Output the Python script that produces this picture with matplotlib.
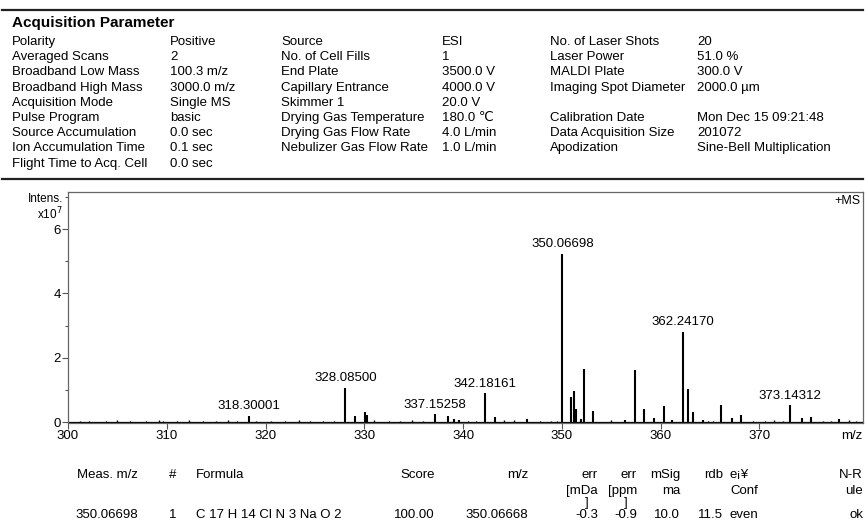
import matplotlib
matplotlib.use("Agg")
import matplotlib.pyplot as plt
from matplotlib.ticker import MultipleLocator, FixedLocator

plt.rcParams['font.family'] = ['Liberation Sans', 'DejaVu Sans']

W, H = 865, 530

# acquisition parameters, three label/value column pairs
col1_names = ['Polarity', 'Averaged Scans', 'Broadband Low Mass', 'Broadband High Mass',
              'Acquisition Mode', 'Pulse Program', 'Source Accumulation',
              'Ion Accumulation Time', 'Flight Time to Acq. Cell']
col1_values = ['Positive', '2', '100.3 m/z', '3000.0 m/z', 'Single MS', 'basic',
               '0.0 sec', '0.1 sec', '0.0 sec']
col2_names = ['Source', 'No. of Cell Fills', 'End Plate', 'Capillary Entrance', 'Skimmer 1',
              'Drying Gas Temperature', 'Drying Gas Flow Rate', 'Nebulizer Gas Flow Rate']
col2_values = ['ESI', '1', '3500.0 V', '4000.0 V', '20.0 V', '180.0 ℃', '4.0 L/min', '1.0 L/min']
col3_names = ['No. of Laser Shots', 'Laser Power', 'MALDI Plate', 'Imaging Spot Diameter', '',
              'Calibration Date', 'Data Acquisition Size', 'Apodization']
col3_values = ['20', '51.0 %', '300.0 V', '2000.0 µm', '', 'Mon Dec 15 09:21:48',
               '201072', 'Sine-Bell Multiplication']

# spectrum: m/z and intensity (x10^7)
peak_mz = [318.30001, 328.08500, 329.05, 330.05, 330.3, 337.15258, 338.5, 339.1, 339.6,
           342.18161, 343.2, 346.5, 350.06698, 350.9, 351.2, 351.4, 351.9, 352.2, 353.2,
           356.4, 357.4, 358.3, 359.3, 360.4, 361.2, 362.24170, 362.8, 363.3, 364.3,
           366.1, 367.2, 368.1, 373.14312, 374.3, 375.2, 378.1]
peak_int = [0.20, 1.07, 0.21, 0.32, 0.22, 0.26, 0.21, 0.10, 0.08,
            0.91, 0.18, 0.10, 5.24, 0.80, 0.96, 0.42, 0.10, 1.65, 0.36,
            0.07, 1.63, 0.42, 0.12, 0.50, 0.08, 2.82, 1.04, 0.32, 0.08,
            0.55, 0.12, 0.22, 0.53, 0.12, 0.18, 0.10]
noise_mz = [301.2, 302.1, 303.8, 305.0, 306.3, 307.9, 309.2, 309.6, 311.0, 312.3, 313.7,
            315.0, 316.2, 317.1, 319.0, 320.6, 322.0, 323.4, 324.5, 325.8, 326.9, 331.0,
            332.5, 333.6, 334.8, 335.9, 340.5, 341.3, 344.1, 345.2, 347.8, 348.9, 349.5,
            355.0, 364.8, 365.3, 369.4, 370.6, 371.5, 372.4, 376.5, 377.3, 379.1, 379.8]
noise_int = [0.04, 0.05, 0.04, 0.06, 0.04, 0.05, 0.07, 0.05, 0.04, 0.06, 0.05,
             0.04, 0.06, 0.05, 0.04, 0.05, 0.04, 0.06, 0.04, 0.05, 0.04, 0.06,
             0.05, 0.04, 0.06, 0.05, 0.05, 0.04, 0.06, 0.06, 0.05, 0.04, 0.05,
             0.06, 0.05, 0.04, 0.05, 0.04, 0.06, 0.05, 0.04, 0.05, 0.06, 0.04]
label_mz = [318.30001, 328.08500, 337.15258, 342.18161, 350.06698, 362.24170, 373.14312]
label_int = [0.20, 1.07, 0.26, 0.91, 5.24, 2.82, 0.53]
x_ticks = [300, 310, 320, 330, 340, 350, 360, 370]

# formula result table
res_headers = [('Meas. m/z', '', ''), ('#', '', ''), ('Formula', '', ''), ('Score', '', ''),
               ('m/z', '', ''), ('err', '[mDa', ']'), ('err', '[ppm', ']'),
               ('mSig', 'ma', ''), ('rdb', '', ''), ('e¡¥', 'Conf', ''), ('N-R', 'ule', '')]
res_row = ['350.06698', '1', 'C 17 H 14 Cl N 3 Na O 2', '100.00', '350.06668',
           '-0.3', '-0.9', '10.0', '11.5', 'even', 'ok']


def fx(px):
    return px / W


def fy(py):
    return 1 - py / H


fig = plt.figure(figsize=(W / 100, H / 100), dpi=100)

# page rules
for yy in (10, 179):
    fig.add_artist(plt.Line2D([fx(2), fx(863)], [fy(yy), fy(yy)], color='#222222', lw=1.6))

fig.text(fx(12), fy(23), 'Acquisition Parameter', fontsize=11, fontweight='bold', va='center')
row_y = [42 + 15.2 * i for i in range(9)]
for names, values, xn, xv in [(col1_names, col1_values, 12, 170),
                              (col2_names, col2_values, 281, 442),
                              (col3_names, col3_values, 550, 697)]:
    for i, (n, v) in enumerate(zip(names, values)):
        fig.text(fx(xn), fy(row_y[i]), n, fontsize=9.5, va='center')
        fig.text(fx(xv), fy(row_y[i]), v, fontsize=9.5, va='center')

# spectrum axes
ax = fig.add_axes([fx(68), fy(423), (863 - 68) / W, (423 - 192) / H])
ax.set_xlim(300, 380.5)
ax.set_ylim(-0.02, 7.15)
ax.plot([300, 380.5], [0, 0], color='black', lw=0.9)
ax.vlines(noise_mz, 0, noise_int, color='black', lw=1.0)
ax.vlines(peak_mz, 0, peak_int, color='black', lw=1.5)
for m, h in zip(label_mz, label_int):
    ax.annotate(f'{m:.5f}', xy=(m, h), xytext=(0, 2.5), textcoords='offset points',
                ha='center', va='bottom', fontsize=9.5)

ax.xaxis.set_major_locator(FixedLocator(x_ticks))
ax.yaxis.set_major_locator(MultipleLocator(2))
ax.yaxis.set_minor_locator(MultipleLocator(1))
ax.tick_params(axis='both', which='major', length=4, width=0.8, color='#555555',
               labelsize=9.5, pad=1)
ax.tick_params(axis='y', which='minor', length=2.5, width=0.8, color='#555555')
for s in ax.spines.values():
    s.set_color('#666666')
    s.set_linewidth(0.9)
ax.text(0.997, 0.985, '+MS', transform=ax.transAxes, ha='right', va='top', fontsize=9)
fig.text(fx(862), fy(436), 'm/z', ha='right', va='center', fontsize=9.5)
fig.text(fx(63), fy(199), 'Intens.', ha='right', va='center', fontsize=8.5)
fig.text(fx(63), fy(214), 'x10$^7$', ha='right', va='center', fontsize=8.5)

# result table: column anchor x and alignment
col_x = [138, 173, 196, 435, 528, 598, 637, 680, 723, 730, 863]
col_ha = ['right', 'center', 'left', 'right', 'right', 'right', 'right', 'right', 'right',
          'left', 'right']
line_y = [475, 491, 503]
for (h1, h2, h3), x, ha in zip(res_headers, col_x, col_ha):
    fig.text(fx(x), fy(line_y[0]), h1, ha=ha, va='center', fontsize=9.5)
    if h2:
        fig.text(fx(x), fy(line_y[1]), h2, ha=ha, va='center', fontsize=9.5)
    if h3:
        fig.text(fx(x - 9), fy(line_y[2]), h3, ha=ha, va='center', fontsize=9.5)
for v, x, ha in zip(res_row, col_x, col_ha):
    fig.text(fx(x), fy(515), v, ha=ha, va='center', fontsize=9.5)

fig.savefig('out.png', dpi=100)
